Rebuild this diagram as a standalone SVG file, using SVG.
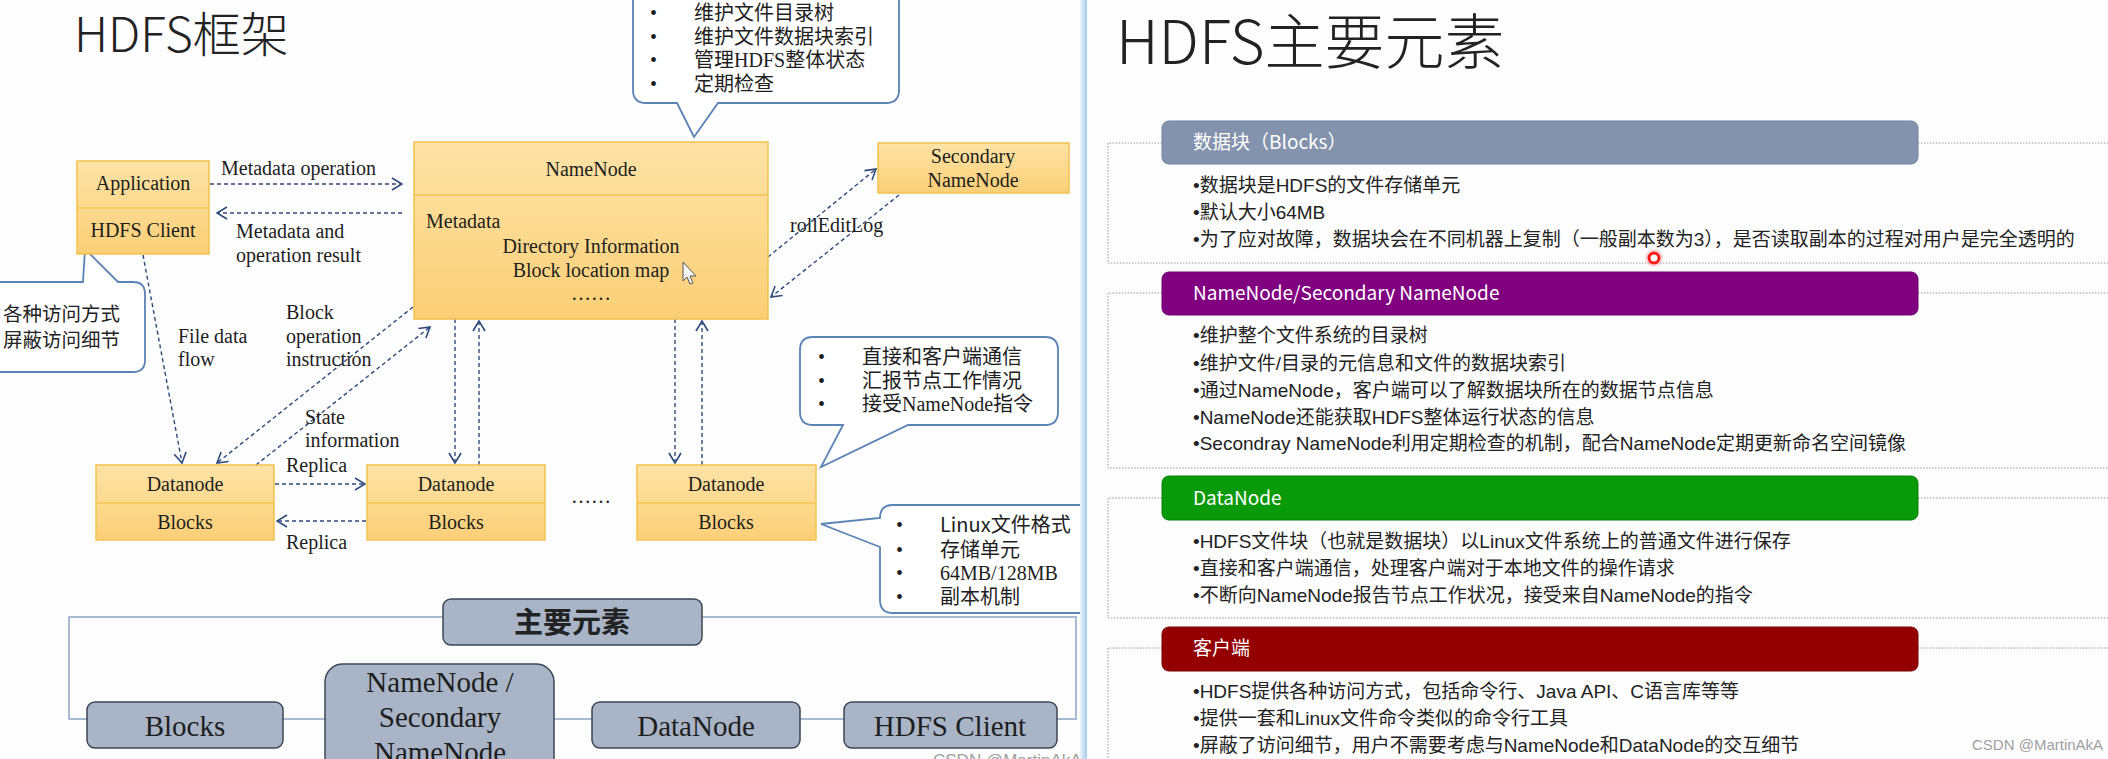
<svg xmlns="http://www.w3.org/2000/svg" width="2108" height="759" viewBox="0 0 2108 759">
<defs>
<linearGradient id="gOr" x1="0" y1="0" x2="0" y2="1">
<stop offset="0" stop-color="#fde3a6"/><stop offset="1" stop-color="#fbcf76"/>
</linearGradient>
<linearGradient id="gDiv" x1="0" y1="0" x2="1" y2="0">
<stop offset="0" stop-color="#eef5fd"/><stop offset="1" stop-color="#a7c9ef"/>
</linearGradient>
<marker id="arr" viewBox="0 0 12 14" markerWidth="12" markerHeight="14" refX="11" refY="7" orient="auto" markerUnits="userSpaceOnUse">
<path d="M1,1 L11,7 L1,13" fill="none" stroke="#2e4a7a" stroke-width="1.6"/>
</marker>
<style>
.ob{fill:url(#gOr);stroke:#f2c14e;stroke-width:1.5}
.sep{stroke:#f5c453;stroke-width:1.5}
.ser{font-family:"Liberation Serif","Noto Sans CJK SC",serif;fill:#1e1e1e}
.t20{font-size:20px}
.mid{text-anchor:middle}
.call{fill:#fff;stroke:#5b83b6;stroke-width:1.8}
.cjk{font-family:"Noto Sans CJK SC","Liberation Sans",sans-serif;fill:#222}
.con{fill:none;stroke:#2e4a7a;stroke-width:1.4;stroke-dasharray:4 3;marker-end:url(#arr)}
.gb{fill:#a9b5c7;stroke:#3d4656;stroke-width:1.5}
.frm{fill:none;stroke:#a9bbd1;stroke-width:2}
.hdr{stroke-width:1}
.ht{font-family:"Noto Sans CJK SC","Liberation Sans",sans-serif;font-size:19px;fill:#fff}
.bt{font-family:"Liberation Sans","Noto Sans CJK SC",sans-serif;font-size:19px;fill:#222}
.dot{fill:none;stroke:#9a9a9a;stroke-width:1;stroke-dasharray:1.5 1.5}
</style>
</defs>
<rect x="0" y="0" width="2108" height="759" fill="#fdfdfd"/>

<!-- LEFT PANEL -->
<text x="74" y="52" class="cjk" font-size="48" font-weight="300">HDFS框架</text>

<g id="callout-namenode">
<path class="call" d="M633,-20 V90 Q633,103 646,103 H677 L694,137 L718,103 H886 Q899,103 899,90 V-20 Z"/>
<g class="ser t20">
<text x="650" y="20">•</text><text x="694" y="20">维护文件目录树</text>
<text x="650" y="44">•</text><text x="694" y="44">维护文件数据块索引</text>
<text x="650" y="67">•</text><text x="694" y="67">管理HDFS整体状态</text>
<text x="650" y="91">•</text><text x="694" y="91">定期检查</text>
</g>
</g>

<g id="callout-client">
<path class="call" d="M-20,282 H83 L85,249 L118,282 H133 Q145,282 145,294 V360 Q145,372 133,372 H-20 Z"/>
<text x="3" y="321" class="cjk" font-size="19.5">各种访问方式</text>
<text x="3" y="347" class="cjk" font-size="19.5">屏蔽访问细节</text>
</g>

<g id="callout-datanode">
<path class="call" d="M813,337 H1045 Q1058,337 1058,350 V412 Q1058,425 1045,425 H908 L821,467 L843,425 H813 Q800,425 800,412 V350 Q800,337 813,337 Z"/>
<g class="ser t20">
<text x="818" y="364">•</text><text x="862" y="364">直接和客户端通信</text>
<text x="818" y="388">•</text><text x="862" y="388">汇报节点工作情况</text>
<text x="818" y="411">•</text><text x="862" y="411">接受NameNode指令</text>
</g>
</g>

<g id="callout-blocks">
<path class="call" d="M893,505 H1100 V613 H893 Q880,613 880,600 V547 L821,524 L880,518 Q880,505 893,505 Z"/>
<g class="ser t20">
<text x="896" y="532">•</text><text x="940" y="532" class="cjk" font-size="20">Linux文件格式</text>
<text x="896" y="557">•</text><text x="940" y="557">存储单元</text>
<text x="896" y="580">•</text><text x="940" y="580">64MB/128MB</text>
<text x="896" y="604">•</text><text x="940" y="604">副本机制</text>
</g>
</g>

<g id="connectors">
<line class="con" x1="210" y1="184" x2="402" y2="184"/>
<line class="con" x1="402" y1="213" x2="217" y2="213"/>
<line class="con" x1="143" y1="255" x2="182" y2="463"/>
<line class="con" x1="413" y1="307" x2="217" y2="463"/>
<line class="con" x1="256" y1="465" x2="430" y2="327"/>
<line class="con" x1="275" y1="484" x2="365" y2="484"/>
<line class="con" x1="366" y1="521" x2="277" y2="521"/>
<line class="con" x1="455" y1="319" x2="455" y2="463"/>
<line class="con" x1="479" y1="465" x2="479" y2="321"/>
<line class="con" x1="675" y1="319" x2="675" y2="463"/>
<line class="con" x1="702" y1="465" x2="702" y2="321"/>
<line class="con" x1="768" y1="257" x2="876" y2="169"/>
<line class="con" x1="899" y1="195" x2="771" y2="297"/>
<g class="ser t20">
<text x="221" y="175">Metadata operation</text>
<text x="236" y="238">Metadata and</text>
<text x="236" y="262">operation result</text>
<text x="178" y="343">File data</text>
<text x="178" y="366">flow</text>
<text x="286" y="319">Block</text>
<text x="286" y="343">operation</text>
<text x="286" y="366">instruction</text>
<text x="305" y="424">State</text>
<text x="305" y="447">information</text>
<text x="286" y="472">Replica</text>
<text x="286" y="549">Replica</text>
<text x="790" y="232">rollEditLog</text>
</g>
</g>

<g id="namenode">
<rect class="ob" x="414" y="142" width="354" height="177"/>
<line class="sep" x1="414" y1="195" x2="768" y2="195"/>
<g class="ser t20">
<text x="591" y="176" class="mid">NameNode</text>
<text x="426" y="228">Metadata</text>
<text x="591" y="253" class="mid">Directory Information</text>
<text x="591" y="277" class="mid">Block location map</text>
<text x="591" y="300" class="mid">……</text>
</g>
<path d="M683,262 V281 L687,277 L690,284 L693,283 L690,276 L696,276 Z" fill="#f4f4f4" stroke="#555" stroke-width="1"/>
</g>

<g id="secondary-namenode">
<rect class="ob" x="878" y="143" width="191" height="50"/>
<text x="973" y="163" class="ser t20 mid">Secondary</text>
<text x="973" y="187" class="ser t20 mid">NameNode</text>
</g>

<g id="application">
<rect class="ob" x="77" y="161" width="132" height="93"/>
<line class="sep" x1="77" y1="208" x2="209" y2="208"/>
<text x="143" y="190" class="ser t20 mid">Application</text>
<text x="143" y="237" class="ser t20 mid">HDFS Client</text>
</g>

<g id="datanode1">
<rect class="ob" x="96" y="465" width="178" height="75"/>
<line class="sep" x1="96" y1="503" x2="274" y2="503"/>
<text x="185" y="491" class="ser t20 mid">Datanode</text>
<text x="185" y="529" class="ser t20 mid">Blocks</text>
</g>
<g id="datanode2">
<rect class="ob" x="367" y="465" width="178" height="75"/>
<line class="sep" x1="367" y1="503" x2="545" y2="503"/>
<text x="456" y="491" class="ser t20 mid">Datanode</text>
<text x="456" y="529" class="ser t20 mid">Blocks</text>
</g>
<text x="591" y="503" class="ser t20 mid">……</text>
<g id="datanode3">
<rect class="ob" x="637" y="465" width="179" height="75"/>
<line class="sep" x1="637" y1="503" x2="816" y2="503"/>
<text x="726" y="491" class="ser t20 mid">Datanode</text>
<text x="726" y="529" class="ser t20 mid">Blocks</text>
</g>

<g id="main-elements">
<path class="frm" d="M443,617 H69 V719 H1076 V617 H702"/>
<g id="me-title">
<rect class="gb" x="443" y="599" width="259" height="46" rx="8"/>
<text x="572" y="633" class="cjk mid" font-size="29" font-weight="bold" fill="#111">主要元素</text>
</g>
<g id="me-blocks">
<rect class="gb" x="87" y="702" width="196" height="46" rx="8"/>
<text x="185" y="736" class="ser mid" font-size="29">Blocks</text>
</g>
<g id="me-namenode">
<rect class="gb" x="325" y="664" width="229" height="120" rx="18"/>
<text x="440" y="692" class="ser mid" font-size="29">NameNode /</text>
<text x="440" y="727" class="ser mid" font-size="29">Secondary</text>
<text x="440" y="762" class="ser mid" font-size="29">NameNode</text>
</g>
<g id="me-datanode">
<rect class="gb" x="592" y="702" width="208" height="46" rx="8"/>
<text x="696" y="736" class="ser mid" font-size="29">DataNode</text>
</g>
<g id="me-client">
<rect class="gb" x="844" y="702" width="213" height="46" rx="8"/>
<text x="950" y="736" class="ser mid" font-size="29">HDFS Client</text>
</g>
</g>
<text x="933" y="766" font-family="Liberation Sans, sans-serif" font-size="17" fill="#a0a0a0">CSDN @MartinAkA</text>

<!-- DIVIDER -->
<rect x="1080" y="0" width="7" height="759" fill="url(#gDiv)"/>
<rect x="1087" y="0" width="1021" height="759" fill="#fdfdfd"/>

<!-- RIGHT PANEL -->
<text x="1116" y="64" class="cjk" font-size="60" font-weight="300">HDFS主要元素</text>

<g id="sec-blocks">
<path class="dot" d="M1162,143 H1108 V263 H2108 M1918,143 H2108"/>
<rect class="hdr" x="1162" y="121" width="756" height="43" rx="7" fill="#8493ad" stroke="#6f7f9a"/>
<text x="1193" y="149" class="ht">数据块（Blocks）</text>
<text x="1193" y="192" class="bt">•数据块是HDFS的文件存储单元</text>
<text x="1193" y="219" class="bt">•默认大小64MB</text>
<text x="1193" y="246" class="bt">•为了应对故障，数据块会在不同机器上复制（一般副本数为3），是否读取副本的过程对用户是完全透明的</text>
</g>

<g id="sec-namenode">
<path class="dot" d="M1162,293 H1108 V468 H2108 M1918,293 H2108"/>
<rect class="hdr" x="1162" y="272" width="756" height="43" rx="7" fill="#800080" stroke="#6a006a"/>
<text x="1193" y="300" class="ht">NameNode/Secondary NameNode</text>
<text x="1193" y="342" class="bt">•维护整个文件系统的目录树</text>
<text x="1193" y="370" class="bt">•维护文件/目录的元信息和文件的数据块索引</text>
<text x="1193" y="397" class="bt">•通过NameNode，客户端可以了解数据块所在的数据节点信息</text>
<text x="1193" y="424" class="bt">•NameNode还能获取HDFS整体运行状态的信息</text>
<text x="1193" y="450" class="bt">•Secondray NameNode利用定期检查的机制，配合NameNode定期更新命名空间镜像</text>
</g>

<g id="sec-datanode">
<path class="dot" d="M1162,498 H1108 V618 H2108 M1918,498 H2108"/>
<rect class="hdr" x="1162" y="476" width="756" height="44" rx="7" fill="#099a09" stroke="#078007"/>
<text x="1193" y="505" class="ht">DataNode</text>
<text x="1193" y="548" class="bt">•HDFS文件块（也就是数据块）以Linux文件系统上的普通文件进行保存</text>
<text x="1193" y="575" class="bt">•直接和客户端通信，处理客户端对于本地文件的操作请求</text>
<text x="1193" y="602" class="bt">•不断向NameNode报告节点工作状况，接受来自NameNode的指令</text>
</g>

<g id="sec-client">
<path class="dot" d="M1162,648 H1108 V770 M1918,648 H2108"/>
<rect class="hdr" x="1162" y="627" width="756" height="44" rx="7" fill="#940000" stroke="#7a0000"/>
<text x="1193" y="655" class="ht">客户端</text>
<text x="1193" y="698" class="bt">•HDFS提供各种访问方式，包括命令行、Java API、C语言库等等</text>
<text x="1193" y="725" class="bt">•提供一套和Linux文件命令类似的命令行工具</text>
<text x="1193" y="752" class="bt">•屏蔽了访问细节，用户不需要考虑与NameNode和DataNode的交互细节</text>
</g>

<circle cx="1654" cy="258" r="9" fill="#ff8080" opacity="0.3"/>
<circle cx="1654" cy="258" r="5" fill="#fff" stroke="#ff1a1a" stroke-width="3"/>
<text x="1972" y="750" font-family="Liberation Sans, sans-serif" font-size="15" fill="#a0a0a0">CSDN @MartinAkA</text>
</svg>
